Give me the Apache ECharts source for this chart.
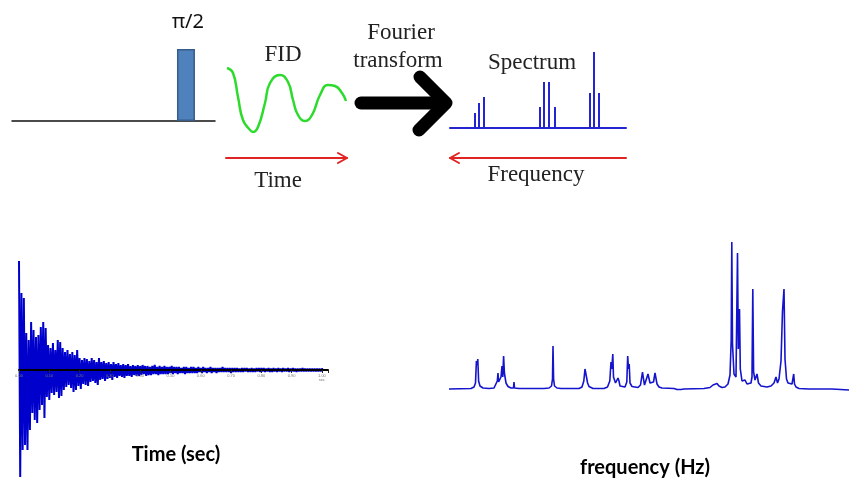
<!DOCTYPE html>
<html>
<head>
<meta charset="utf-8">
<script src="https://cdn.jsdelivr.net/npm/echarts@6/dist/echarts.min.js"></script>
<style>
  html, body {margin: 0; padding: 0; background: #fff;}
  #chart {width: 849px; height: 485px;}
</style>
</head>
<body>
<div id="chart"></div>
<script>
// pulse sequence: 90 degree pulse position on a 0..1 time line
const pulseAt = [[0.857, 1]];

// sketch of the FID (x: px along, y: amplitude)
const fidSketch = [
  [1, 32], [7, 27], [12, 3], [17, -20], [24, -30], [27, -32], [32, -27], [39, -3],
  [44, 17], [54, 25], [62, 18], [67, 0], [72, -15], [79, -21], [86, -15], [94, 5],
  [102, 15], [109, 14], [116, 7], [120, -1]
];

// stick spectrum (position, height)
const stickPos = [25, 29, 34, 90, 94, 99, 105, 140, 144, 149];
const stickHeights = [15, 25, 31, 21, 46, 46, 21, 35, 76, 35];

// measured FID, one sample every fidStep seconds
const fidStep = 0.004;
const fidValues = [
  109, -107, 77, -80, 72, -75, 37, -80, 30, -60,
  48, -43, 40, -50, 33, -53, 35, -40, 43, -35,
  48, -48, 42, -27, 25, -30, 22, -23, 27, -25,
  20, -22, 30, -28, 28, -26, 22, -20, 18, -17,
  20, -15, 16, -18, 18, -22, 15, -20, 20, -16,
  12, -19, 10, -14, 12, -15, 11, -16, 9, -12,
  12, -11, 10, -13, 8, -15, 12, -10, 8, -9,
  9, -11, 7, -9, 8, -8, 6, -10, 8, -7,
  6, -8, 7, -6, 5, -7, 6, -8, 5, -6,
  6, -6, 4, -7, 5, -5, 4, -6, 5, -6,
  4, -5, 5, -4, 4, -6, 4, -5, 3, -5,
  4, -4, 5, -4, 3, -5, 4, -4, 3, -4,
  4, -4, 3, -4, 3, -3, 4, -4, 3, -3,
  3, -4, 3, -3, 2, -3, 3, -4, 3, -3,
  2, -3, 3, -3, 3, -3, 2, -3, 3, -2,
  2, -3, 3, -2, 2, -3, 2, -2, 3, -3,
  2, -2, 2, -3, 2, -2, 2, -2, 3, -2,
  2, -2, 2, -2, 2, -3, 2, -2, 2, -2,
  2, -2, 1.5, -2, 2, -2, 2, -1.5, 2, -2,
  1.5, -2, 2, -2, 1.5, -2, 2, -1.5, 2, -2,
  2, -1.5, 2, -2, 1.5, -1.5, 2, -2, 1.5, -2,
  2, -1.5, 1.5, -2, 2, -1.5, 1.5, -2, 2, -1.5,
  1.5, -1.5, 2, -2, 1.5, -1.5, 2, -1.5, 1.5, -2,
  1.5, -1.5, 1.5, -1.5, 2, -1.5, 1.5, -1.5, 1.5, -1.5,
  1.5, -1.5, 1.5, -1.5, 1.5, -1.5, 1.5, -1.5, 1.5, -1.5,
  1.5, -1
];

// NMR spectrum trace (frequency, intensity)
const specPoints = [
  [0, 0], [22, 0.5], [25, 2], [26.5, 6], [27.4, 28], [28.1, 24], [28.8, 30], [29.6, 8], [31, 3], [34, 1], [40, 0.5],
  [45, 1], [47, 3], [48.3, 8], [49, 16], [49.6, 7], [51, 6], [52, 12], [53, 23], [53.8, 12], [54.6, 33], [55.4, 16], [56, 18], [57, 6], [59, 2.5], [62, 1],
  [64.5, 1], [65, 7], [65.5, 1], [70, 0.5], [95, 0.5], [100, 1], [102.5, 3], [103.5, 10], [104, 43], [104.6, 10], [105.5, 3], [108, 1], [112, 0.5],
  [130, 0.5], [133, 2], [134.8, 8], [136, 20], [136.8, 22], [137.5, 18], [138.6, 6], [140, 2.5], [144, 0.5],
  [155, 0.5], [158.5, 2], [160.8, 8], [162, 27], [162.8, 20], [163.8, 35], [164.5, 12], [165.2, 13], [166.5, 6], [168, 7], [169, 11], [170, 8], [171, 3], [173, 2],
  [176, 2], [177.8, 7], [178.7, 33], [179.5, 20], [180.2, 25], [181, 6], [183, 2.5],
  [189, 1.5], [191.5, 4], [193.5, 17], [194.5, 10], [195.5, 4], [197, 5], [199, 15], [200, 17], [201, 6], [202.5, 5], [204.5, 7], [206, 16], [207, 15], [208, 5], [210, 2], [213, 1],
  [225, 0.5], [228, -0.5], [232, -0.5], [235, 0],
  [255, 0.5], [261, 1.5], [264, 4], [266, 6], [268, 5.5], [270, 3], [273, 1.5],
  [276, 2], [279, 5], [281, 14], [282.2, 49], [282.8, 147], [283.5, 45], [285, 15], [287, 12], [288.5, 136], [289.3, 40], [290.5, 80], [291.3, 20], [293, 8], [294.5, 6], [296, 9], [298, 5], [300, 7], [302, 6],
  [303, 12], [303.8, 100], [304.6, 17], [306, 9], [308, 15], [309.5, 6], [312, 3], [318, 2],
  [322, 3], [325, 6], [327, 12], [328.5, 6], [330, 10], [332, 28], [333.5, 78], [335, 100], [336, 30], [337.5, 10], [339, 6], [341, 5], [343, 5], [344, 4], [344.7, 15], [345.5, 5], [347, 2], [350, 0.5], [360, 0],
  [383, 0], [385, -1], [400, -1]
];

const myChart = echarts.init(document.getElementById('chart'));

const serif = '"Liberation Serif", "Times New Roman", serif';
const sans = 'Lato, "Open Sans", sans-serif';
const red = '#e02424';

function hidden(extra) {
  return Object.assign({
    axisLine: {show: false}, axisTick: {show: false},
    axisLabel: {show: false}, splitLine: {show: false}
  }, extra);
}

function txt(text, x, y, font, fill) {
  return {
    type: 'text', silent: true,
    style: {text: text, x: x, y: y, font: font, fill: fill || '#111', textAlign: 'center', textVerticalAlign: 'middle'}
  };
}

function seg(points, color, width) {
  return {
    type: 'polyline', silent: true,
    shape: {points: points},
    style: {stroke: color, lineWidth: width, fill: null, lineCap: 'round', lineJoin: 'round'}
  };
}

let option = {
  animation: false,
  backgroundColor: '#fff',
  grid: [
    {left: 12, top: 49, width: 203, height: 72},    // pulse
    {left: 226, top: 68, width: 120, height: 64},   // FID sketch
    {left: 450, top: 52, width: 176, height: 76},   // stick spectrum
    {left: 19, top: 261, width: 309, height: 216},  // measured FID
    {left: 449, top: 242, width: 400, height: 150}, // NMR spectrum
    {left: 19, top: 350, width: 309, height: 20}    // time axis of the FID
  ],
  xAxis: [
    hidden({gridIndex: 0, type: 'value', min: 0, max: 1,
      axisLine: {show: true, lineStyle: {color: '#111', width: 1.5}}}),
    hidden({gridIndex: 1, type: 'value', min: 0, max: 120}),
    hidden({gridIndex: 2, type: 'value', min: 0, max: 176,
      axisLine: {show: true, lineStyle: {color: '#2424d0', width: 2}}}),
    hidden({gridIndex: 3, type: 'value', min: 0, max: 1.02}),
    hidden({gridIndex: 4, type: 'value', min: 0, max: 400}),
    {
      gridIndex: 5, type: 'value', min: 0, max: 1.02, interval: 0.1, z: 5,
      axisLine: {show: true, lineStyle: {color: '#000', width: 2}},
      axisTick: {show: true, length: 3, lineStyle: {color: '#222', width: 1}},
      axisLabel: {
        show: true, fontSize: 4, color: '#777', margin: 4,
        formatter: v => v > 1.001 ? '' : (v > 0.999 ? '1.00\nsec' : v.toFixed(2))
      },
      splitLine: {show: false}
    }
  ],
  yAxis: [
    hidden({gridIndex: 0, type: 'value', min: 0, max: 1}),
    hidden({gridIndex: 1, type: 'value', min: -32, max: 32}),
    hidden({gridIndex: 2, type: 'value', min: 0, max: 76}),
    hidden({gridIndex: 3, type: 'value', min: -107, max: 109}),
    hidden({gridIndex: 4, type: 'value', min: -3, max: 147}),
    hidden({gridIndex: 5, type: 'value', min: 0, max: 1})
  ],
  series: [
    {
      name: 'pulse', type: 'bar', xAxisIndex: 0, yAxisIndex: 0, barWidth: 18,
      itemStyle: {color: '#4f81bd', borderColor: '#385d8a', borderWidth: 1.5},
      data: pulseAt
    },
    {
      name: 'FID sketch', type: 'line', xAxisIndex: 1, yAxisIndex: 1, smooth: 0.5, showSymbol: false,
      lineStyle: {color: '#2ddb2d', width: 2.5},
      data: fidSketch
    },
    {
      name: 'sticks', type: 'bar', xAxisIndex: 2, yAxisIndex: 2, barWidth: 2,
      itemStyle: {color: '#2424d0'},
      data: stickPos.map((p, i) => [p, stickHeights[i]])
    },
    {
      name: 'FID', type: 'line', xAxisIndex: 3, yAxisIndex: 3, showSymbol: false,
      lineStyle: {color: '#0000cc', width: 2},
      data: fidValues.map((v, i) => [i * fidStep, v])
    },
    {
      name: 'spectrum', type: 'line', xAxisIndex: 4, yAxisIndex: 4, showSymbol: false,
      lineStyle: {color: '#1414cc', width: 1.6},
      data: specPoints
    }
  ],
  graphic: [
    txt('π/2', 188, 22, '20px "Noto Sans", sans-serif'),
    txt('FID', 283, 55, '23px ' + serif, '#222'),
    txt('Fourier', 401, 33, '23px ' + serif, '#222'),
    txt('transform', 398, 61, '23px ' + serif, '#222'),
    txt('Spectrum', 532, 63, '23px ' + serif, '#222'),
    txt('Time', 278, 181, '23px ' + serif, '#222'),
    txt('Frequency', 536, 175, '23px ' + serif, '#222'),
    txt('Time (sec)', 176, 455, 'bold 20px ' + sans, '#000'),
    txt('frequency (Hz)', 645, 468, 'bold 20px ' + sans, '#000'),
    // big black arrow
    seg([[361, 103], [444, 103]], '#000', 13),
    seg([[420, 77], [446, 103], [419, 130]], '#000', 13),
    // red direction arrows
    seg([[226, 158], [347, 158]], red, 2),
    seg([[338, 153], [347, 158], [338, 163]], red, 2),
    seg([[450, 158], [626, 158]], red, 2),
    seg([[459, 153], [450, 158], [459, 163]], red, 2)
  ]
};

myChart.setOption(option);
</script>
</body>
</html>
